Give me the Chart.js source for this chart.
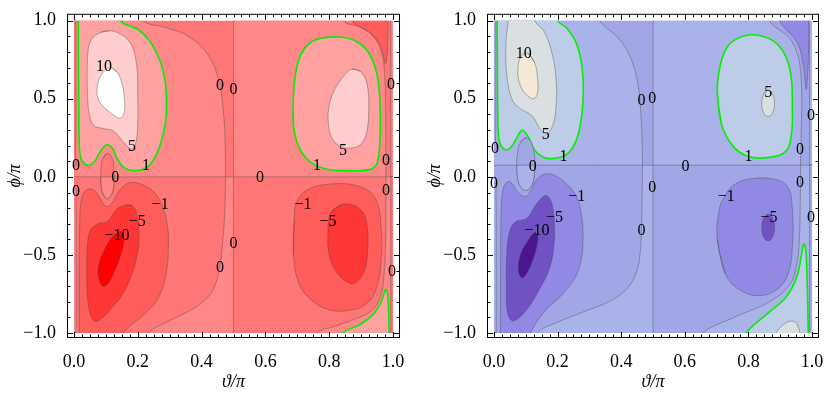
<!DOCTYPE html>
<html>
<head>
<meta charset="utf-8">
<script src="https://cdn.jsdelivr.net/npm/chart.js@4.4.1/dist/chart.umd.min.js"></script>
<style>
  html, body { margin: 0; padding: 0; background: #fff; }
  #wrap { position: relative; width: 830px; height: 395px; }
  canvas { position: absolute; top: 0; }
  #left { left: 0; }
  #right { left: 415px; }
</style>
</head>
<body>
<div id="wrap">
  <canvas id="left" width="415" height="395"></canvas>
  <canvas id="right" width="415" height="395"></canvas>
</div>
<script>
// axes (theta/pi along x, phi/pi along y)
var X_TICKS = [0, 0.2, 0.4, 0.6, 0.8, 1.0];
var Y_TICKS = [-1, -0.5, 0, 0.5, 1];
var X_MINOR = 0.025;
var Y_MINOR = 0.1;

// contour shapes, [theta/pi, phi/pi] ; third element 1 = sharp corner
// shapes that start with a corner are open regions closed outside the frame,
// the others are closed loops

// ---- left panel ----
var L_BASE = [[-0.1, -1.1, 1], [-0.1, 1.1, 1], [1.1, 1.1, 1], [1.1, -1.1, 1]];
var L_UL0 = [[-0.1, 0, 1], [-0.1, 1.1, 1], [0.205, 1.1, 1], [0.216, 1.0], [0.29, 0.955], [0.354, 0.905],
    [0.417, 0.79], [0.452, 0.63], [0.468, 0.42], [0.474, 0.2], [0.475, 0, 1]];
var L_UR0 = [[0.5, 0, 1], [0.5, 1.1, 1], [0.835, 1.1, 1], [0.843, 1.0], [0.9, 0.955], [0.942, 0.89],
    [0.965, 0.79], [0.974, 0.65], [0.977, 0.4], [0.978, 0.15], [0.978, 0, 1]];
var L_TR1 = [[0.865, 1.1, 1], [0.87, 1.0], [0.92, 0.935], [0.952, 0.87], [0.968, 0.79], [0.976, 0.725],
    [0.981, 0.77], [0.984, 0.88], [0.985, 1.0], [0.985, 1.1, 1]];
var L_RS_U = [[0.993, 0, 1], [0.993, 1.1, 1], [1.1, 1.1, 1], [1.1, 0, 1]];
var L_LM0 = [[0.5, 0, 1], [0.475, 0, 1], [0.473, -0.2], [0.466, -0.42], [0.457, -0.57], [0.443, -0.69],
    [0.415, -0.78], [0.36, -0.86], [0.29, -0.93], [0.235, -1.0], [0.22, -1.1, 1], [0.5, -1.1, 1]];
var L_BR0 = [[1.1, 0, 1], [0.978, 0, 1], [0.978, -0.15], [0.977, -0.4], [0.972, -0.62], [0.96, -0.77],
    [0.93, -0.86], [0.88, -0.91], [0.82, -0.955], [0.76, -1.0], [0.74, -1.1, 1], [1.1, -1.1, 1]];
var L_RS_L = [[0.993, 0, 1], [0.993, -1.1, 1], [1.1, -1.1, 1], [1.1, 0, 1]];
var L_LS_U = [[-0.1, 1.1, 1], [0.006, 1.1, 1], [0.006, 0.5], [0.005, 0.15], [0.002, 0.07], [-0.1, 0.05, 1]];
var L_LS_L = [[-0.1, -1.1, 1], [0.007, -1.1, 1], [0.007, -0.5], [0.006, -0.15], [0.002, -0.07], [-0.1, -0.05, 1]];
var L_UL1 = [[0.0135, 1.1, 1], [0.0135, 1.0], [0.014, 0.75], [0.015, 0.45], [0.016, 0.25], [0.02, 0.13],
    [0.032, 0.085], [0.047, 0.075], [0.065, 0.1], [0.082, 0.16], [0.103, 0.205], [0.12, 0.185],
    [0.135, 0.12], [0.155, 0.062], [0.186, 0.04], [0.228, 0.06], [0.255, 0.13], [0.274, 0.23],
    [0.287, 0.35], [0.29, 0.47], [0.285, 0.62], [0.262, 0.78], [0.21, 0.93], [0.144, 1.0], [0.135, 1.1, 1]];
var L_UL5 = [[0.085, 0.925], [0.055, 0.88], [0.044, 0.8], [0.042, 0.56], [0.048, 0.4], [0.062, 0.33],
    [0.09, 0.31], [0.122, 0.295], [0.148, 0.24], [0.168, 0.195], [0.182, 0.178], [0.195, 0.23],
    [0.2, 0.35], [0.2, 0.5], [0.196, 0.72], [0.176, 0.86], [0.14, 0.92], [0.11, 0.935]];
var L_UL10 = [[0.115, 0.70], [0.09, 0.665], [0.077, 0.61], [0.072, 0.54], [0.08, 0.48], [0.1, 0.435],
    [0.125, 0.395], [0.145, 0.375], [0.157, 0.41], [0.158, 0.5], [0.15, 0.6], [0.135, 0.67]];
var L_EL_U = [[0.105, 0.15], [0.119, 0.12], [0.125, 0.06], [0.126, -0.02], [0.122, -0.09], [0.113, -0.13],
    [0.105, -0.14], [0.097, -0.13], [0.088, -0.09], [0.084, -0.02], [0.085, 0.06], [0.091, 0.12]];
var L_EL_L = [[0.126, 0, 1], [0.126, -0.02], [0.122, -0.09], [0.113, -0.13], [0.105, -0.14], [0.097, -0.13],
    [0.088, -0.09], [0.084, -0.02], [0.084, 0, 1]];
var L_LL1 = [[0.016, -1.1, 1], [0.016, -1.0], [0.016, -0.6], [0.018, -0.3], [0.022, -0.16], [0.033, -0.095],
    [0.05, -0.078], [0.068, -0.095], [0.085, -0.15], [0.103, -0.19], [0.12, -0.165], [0.14, -0.095],
    [0.163, -0.048], [0.188, -0.035], [0.22, -0.055], [0.252, -0.1], [0.278, -0.19], [0.292, -0.3],
    [0.296, -0.42], [0.29, -0.6], [0.265, -0.77], [0.22, -0.88], [0.178, -0.95], [0.155, -1.0], [0.145, -1.1, 1]];
var L_LL5 = [[0.165, -0.18], [0.135, -0.205], [0.105, -0.285], [0.075, -0.3], [0.052, -0.34], [0.043, -0.42],
    [0.04, -0.6], [0.044, -0.8], [0.055, -0.9], [0.068, -0.925], [0.09, -0.9], [0.12, -0.835], [0.15, -0.76],
    [0.178, -0.64], [0.198, -0.5], [0.204, -0.38], [0.198, -0.25], [0.183, -0.185]];
var L_LL10 = [[0.145, -0.35], [0.12, -0.385], [0.095, -0.47], [0.078, -0.56], [0.077, -0.64], [0.09, -0.70],
    [0.108, -0.68], [0.128, -0.6], [0.145, -0.51], [0.155, -0.43], [0.155, -0.37]];
var L_UR1 = [[0.687, 0.456], [0.692, 0.62], [0.705, 0.75], [0.73, 0.84], [0.77, 0.885], [0.828, 0.895],
    [0.887, 0.865], [0.928, 0.78], [0.952, 0.63], [0.96, 0.4], [0.958, 0.2], [0.95, 0.09], [0.93, 0.048],
    [0.865, 0.04], [0.79, 0.05], [0.738, 0.1], [0.703, 0.2], [0.688, 0.33]];
var L_UR5 = [[0.871, 0.69], [0.843, 0.64], [0.815, 0.55], [0.8, 0.46], [0.797, 0.35], [0.808, 0.25],
    [0.835, 0.195], [0.87, 0.185], [0.9, 0.21], [0.918, 0.29], [0.924, 0.45], [0.918, 0.6], [0.898, 0.675]];
var L_LR1 = [[0.69, -0.29], [0.697, -0.17], [0.73, -0.085], [0.81, -0.045], [0.9, -0.065], [0.945, -0.14],
    [0.962, -0.3], [0.962, -0.55], [0.945, -0.73], [0.915, -0.815], [0.86, -0.855], [0.8, -0.85],
    [0.745, -0.79], [0.705, -0.68], [0.688, -0.5]];
var L_LR5 = [[0.835, -0.18], [0.875, -0.18], [0.905, -0.225], [0.918, -0.3], [0.921, -0.45], [0.91, -0.6],
    [0.88, -0.68], [0.85, -0.665], [0.82, -0.6], [0.8, -0.5], [0.796, -0.36], [0.805, -0.23]];
var L_BR1 = [[0.83, -1.1, 1], [0.843, -1.0], [0.897, -0.945], [0.94, -0.875], [0.963, -0.8], [0.977, -0.72],
    [0.983, -0.75], [0.986, -0.85], [0.988, -1.0], [0.989, -1.1, 1]];

var L_LABELS = [
    ['10', 0.094, 0.706], ['5', 0.182, 0.19], ['1', 0.226, 0.069], ['0', 0.006, 0.069], ['0', 0.006, -0.094],
    ['0', 0.129, -0.006], ['0', 0.458, 0.58], ['0', 0.50, 0.56], ['0', 0.583, -0.006], ['0', 0.50, -0.43],
    ['0', 0.458, -0.58], ['\u22121', 0.27, -0.18], ['\u22125', 0.198, -0.29], ['\u221210', 0.135, -0.38],
    ['5', 0.843, 0.17], ['1', 0.762, 0.07], ['0', 0.994, 0.59], ['0', 0.978, 0.1], ['0', 0.978, -0.09],
    ['\u22121', 0.718, -0.18], ['\u22125', 0.796, -0.29], ['0', 0.997, -0.61]
];

// ---- right panel ----
var R_BASE = [[-0.1, -1.1, 1], [-0.1, 1.1, 1], [1.1, 1.1, 1], [1.1, -1.1, 1]];
var R_UL0 = [[-0.1, 0.075, 1], [-0.1, 1.1, 1], [0.32, 1.1, 1], [0.332, 1.0], [0.39, 0.89], [0.428, 0.77],
    [0.452, 0.6], [0.462, 0.4], [0.466, 0.2], [0.467, 0.075, 1]];
var R_UR0 = [[0.5, 0.075, 1], [0.5, 1.1, 1], [0.86, 1.1, 1], [0.865, 1.0], [0.928, 0.89], [0.955, 0.78],
    [0.965, 0.65], [0.968, 0.5], [0.966, 0.3], [0.964, 0.075, 1]];
var R_TR1 = [[0.892, 1.1, 1], [0.897, 1.0], [0.953, 0.86], [0.972, 0.72], [0.979, 0.6], [0.982, 0.56],
    [0.986, 0.65], [0.989, 0.8], [0.99, 1.0], [0.99, 1.1, 1]];
var R_RS_U = [[0.992, 0.075, 1], [0.992, 1.1, 1], [1.1, 1.1, 1], [1.1, 0.075, 1]];
var R_LM0 = [[0.5, 0.075, 1], [0.467, 0.075, 1], [0.466, -0.1], [0.464, -0.3], [0.46, -0.48], [0.448, -0.61],
    [0.42, -0.71], [0.37, -0.79], [0.28, -0.865], [0.2, -0.93], [0.135, -1.0], [0.12, -1.1, 1], [0.5, -1.1, 1]];
var R_BR0 = [[1.1, 0.075, 1], [0.964, 0.075, 1], [0.963, -0.15], [0.96, -0.4], [0.952, -0.56], [0.93, -0.69],
    [0.865, -0.8], [0.76, -0.895], [0.655, -1.0], [0.63, -1.1, 1], [1.1, -1.1, 1]];
var R_RS_L = [[0.992, 0.075, 1], [0.992, -1.1, 1], [1.1, -1.1, 1], [1.1, 0.075, 1]];
var R_LS_U = [[-0.1, 1.1, 1], [0.006, 1.1, 1], [0.006, 0.5], [0.005, 0.25], [0.002, 0.17], [-0.1, 0.15, 1]];
var R_LS_L = [[-0.1, -1.1, 1], [0.007, -1.1, 1], [0.007, -0.5], [0.006, -0.1], [0.002, -0.04], [-0.1, -0.02, 1]];
var R_UL1 = [[0.01, 1.1, 1], [0.01, 1.0], [0.011, 0.7], [0.012, 0.4], [0.015, 0.25], [0.025, 0.19],
    [0.045, 0.176], [0.065, 0.225], [0.088, 0.298], [0.108, 0.255], [0.13, 0.165], [0.165, 0.12],
    [0.216, 0.13], [0.245, 0.18], [0.266, 0.28], [0.279, 0.46], [0.279, 0.66], [0.262, 0.84],
    [0.23, 0.95], [0.2, 1.0], [0.19, 1.1, 1]];
var R_UL5 = [[0.045, 1.1, 1], [0.045, 1.0], [0.038, 0.875], [0.04, 0.66], [0.056, 0.5], [0.08, 0.44],
    [0.12, 0.39], [0.144, 0.31], [0.165, 0.278], [0.185, 0.33], [0.195, 0.45], [0.196, 0.6], [0.185, 0.77],
    [0.158, 0.93], [0.128, 1.0], [0.12, 1.1, 1]];
var R_UL10 = [[0.107, 0.79], [0.085, 0.77], [0.075, 0.68], [0.082, 0.59], [0.1, 0.53], [0.125, 0.5],
    [0.137, 0.54], [0.137, 0.63], [0.128, 0.73]];
var R_EL_U = [[0.1, 0.25], [0.117, 0.22], [0.127, 0.14], [0.128, 0.04], [0.12, -0.05], [0.1, -0.087],
    [0.08, -0.05], [0.072, 0.04], [0.073, 0.14], [0.083, 0.22]];
var R_EL_L = [[0.1275, 0.075, 1], [0.128, 0.04], [0.12, -0.05], [0.1, -0.087], [0.08, -0.05], [0.072, 0.04],
    [0.0725, 0.075, 1]];
var R_LL1 = [[0.02, -1.1, 1], [0.02, -1.0], [0.021, -0.6], [0.023, -0.2], [0.03, -0.07], [0.045, -0.03],
    [0.06, -0.05], [0.075, -0.1], [0.1, -0.125], [0.118, -0.08], [0.135, -0.015], [0.166, 0.02], [0.2, 0.0],
    [0.228, -0.044], [0.255, -0.11], [0.271, -0.2], [0.28, -0.4], [0.265, -0.6], [0.22, -0.74], [0.16, -0.86],
    [0.115, -1.0], [0.105, -1.1, 1]];
var R_LL5 = [[0.16, -0.12], [0.135, -0.17], [0.103, -0.265], [0.066, -0.29], [0.048, -0.36], [0.04, -0.5],
    [0.039, -0.7], [0.042, -0.86], [0.056, -0.92], [0.08, -0.9], [0.11, -0.83], [0.14, -0.73], [0.172, -0.6],
    [0.188, -0.45], [0.19, -0.3], [0.183, -0.18], [0.172, -0.13]];
var R_LL10 = [[0.128, -0.356], [0.103, -0.42], [0.083, -0.5], [0.077, -0.6], [0.088, -0.645], [0.105, -0.61],
    [0.122, -0.53], [0.134, -0.45], [0.138, -0.375]];
var R_UR1 = [[0.702, 0.54], [0.71, 0.7], [0.73, 0.82], [0.76, 0.88], [0.81, 0.91], [0.87, 0.88], [0.91, 0.8],
    [0.933, 0.66], [0.938, 0.45], [0.935, 0.27], [0.918, 0.165], [0.865, 0.125], [0.80, 0.13], [0.75, 0.2],
    [0.715, 0.34]];
var R_UR5 = [[0.862, 0.555], [0.876, 0.53], [0.882, 0.47], [0.876, 0.41], [0.862, 0.385], [0.848, 0.41],
    [0.842, 0.47], [0.848, 0.53]];
var R_LR1 = [[0.702, -0.40], [0.708, -0.21], [0.724, -0.13], [0.752, -0.055], [0.80, -0.015], [0.875, -0.013],
    [0.922, -0.06], [0.938, -0.2], [0.938, -0.45], [0.925, -0.62], [0.89, -0.72], [0.83, -0.76], [0.77, -0.72],
    [0.727, -0.62]];
var R_LR5 = [[0.862, -0.24], [0.876, -0.265], [0.882, -0.325], [0.876, -0.385], [0.862, -0.41], [0.848, -0.385],
    [0.842, -0.325], [0.848, -0.265]];
var R_BR1 = [[0.78, -1.1, 1], [0.793, -1.0], [0.86, -0.875], [0.92, -0.765], [0.952, -0.64], [0.967, -0.5],
    [0.974, -0.43], [0.98, -0.46], [0.985, -0.7], [0.988, -1.0], [0.988, -1.1, 1]];
var R_BR5 = [[0.88, -1.1, 1], [0.887, -1.0], [0.905, -0.955], [0.928, -0.925], [0.948, -0.93], [0.958, -0.97],
    [0.962, -1.0], [0.963, -1.1, 1]];

var R_LABELS = [
    ['10', 0.094, 0.79], ['5', 0.163, 0.27], ['1', 0.219, 0.13], ['0', 0.003, 0.18], ['0', 0.122, 0.065],
    ['0', 0.0, -0.044], ['0', 0.464, 0.49], ['0', 0.498, 0.5], ['0', 0.602, 0.065], ['0', 0.498, -0.07],
    ['5', 0.862, 0.54], ['1', 0.8, 0.13], ['0', 0.997, 0.39], ['0', 0.962, 0.175], ['0', 0.962, -0.035],
    ['\u22121', 0.26, -0.13], ['\u22125', 0.19, -0.26], ['\u221210', 0.135, -0.345], ['0', 0.464, -0.345],
    ['\u22121', 0.73, -0.13], ['\u22125', 0.865, -0.26], ['0', 0.997, -0.26]
];

// draw order, bottom first: [shape, band, line]
var L_LAYERS = [
    [L_BASE, 'n0', 'none'], [L_UL0, 'p0', 'gray'], [L_UR0, 'p0', 'gray'], [L_TR1, 'n1', 'gray'],
    [L_RS_U, 'p0', 'gray'], [L_LM0, 'p0', 'gray'], [L_BR0, 'p0', 'gray'], [L_RS_L, 'n0', 'gray'],
    [L_LS_U, 'n0', 'gray'], [L_LS_L, 'p0', 'gray'], [L_UL1, 'p1', 'green'], [L_UL5, 'p5', 'gray'],
    [L_UL10, 'p10', 'gray'], [L_EL_U, 'n0', 'gray'], [L_EL_L, 'p0', 'gray'], [L_LL1, 'n1', 'gray'],
    [L_LL5, 'n5', 'gray'], [L_LL10, 'n10', 'gray'], [L_UR1, 'p1', 'green'], [L_UR5, 'p5', 'gray'],
    [L_LR1, 'n1', 'gray'], [L_LR5, 'n5', 'gray'], [L_BR1, 'p1', 'green']
];
var R_LAYERS = [
    [R_BASE, 'n0', 'none'], [R_UL0, 'p0', 'gray'], [R_UR0, 'p0', 'gray'], [R_TR1, 'n1', 'gray'],
    [R_RS_U, 'p0', 'gray'], [R_LM0, 'p0', 'gray'], [R_BR0, 'p0', 'gray'], [R_RS_L, 'n0', 'gray'],
    [R_LS_U, 'n0', 'gray'], [R_LS_L, 'p0', 'gray'], [R_UL1, 'p1', 'green'], [R_UL5, 'p5', 'gray'],
    [R_UL10, 'p10', 'gray'], [R_EL_U, 'n0', 'gray'], [R_EL_L, 'p0', 'gray'], [R_LL1, 'n1', 'gray'],
    [R_LL5, 'n5', 'gray'], [R_LL10, 'n10', 'gray'], [R_UR1, 'p1', 'green'], [R_UR5, 'p5', 'gray'],
    [R_LR1, 'n1', 'gray'], [R_LR5, 'n5', 'gray'], [R_BR1, 'p1', 'green'], [R_BR5, 'p5', 'gray']
];

var RED = {
    n10: '#ff0000', n5: '#ff3636', n1: '#ff5c5c', n0: '#ff7676',
    p0: '#ff8787', p1: '#ffa1a1', p5: '#ffcdcd', p10: '#ffffff'
};
var BLUE = {
    n10: '#4b1591', n5: '#7052c4', n1: '#9189e3', n0: '#a1a6e7',
    p0: '#aab3e9', p1: '#becde7', p5: '#dadfe2', p10: '#f4e8d6'
};
var LINE_GRAY = 'rgba(70, 70, 70, 0.5)';
var LINE_GREEN = '#00f000';
var SERIF = '"Liberation Serif", "Times New Roman", serif';

function shapePoints(shape, loop) {
    var pts = [];
    shape.forEach(function (p) {
        pts.push({x: p[0], y: p[1]});
        if (p[2]) pts.push({x: p[0], y: p[1]});
    });
    var first = {x: shape[0][0], y: shape[0][1]};
    if (loop) {
        var last = shape[shape.length - 1];
        pts.unshift({x: last[0], y: last[1]});
        pts.push(first);
    } else {
        pts.push(first, {x: first.x, y: first.y});
    }
    return pts;
}

function makeDatasets(layers, palette) {
    return layers.map(function (l, i) {
        var shape = l[0];
        var loop = !shape[0][2];
        return {
            data: shapePoints(shape, loop),
            fill: 'shape',
            backgroundColor: palette[l[1]],
            borderColor: l[2] === 'green' ? LINE_GREEN : LINE_GRAY,
            borderWidth: l[2] === 'none' ? 0 : (l[2] === 'green' ? 1.6 : 0.8),
            tension: 0.4,
            pointRadius: 0,
            order: layers.length - i
        };
    });
}

var contourPlugin = {
    id: 'contour',
    beforeDatasetsDraw: function (chart) {
        var x = chart.scales.x, y = chart.scales.y, ctx = chart.ctx;
        var l = x.getPixelForValue(0), r = x.getPixelForValue(1);
        var t = y.getPixelForValue(1), b = y.getPixelForValue(-1);
        ctx.save();
        ctx.beginPath();
        ctx.rect(l, t, r - l, b - t);
        ctx.clip();
    },
    afterDatasetsDraw: function (chart, args, opts) {
        var ctx = chart.ctx, x = chart.scales.x, y = chart.scales.y;
        ctx.restore();
        ctx.save();
        ctx.fillStyle = '#000';
        ctx.font = '16px ' + SERIF;
        ctx.textAlign = 'center';
        ctx.textBaseline = 'middle';
        opts.labels.forEach(function (lb) {
            ctx.fillText(lb[0], x.getPixelForValue(lb[1]), y.getPixelForValue(lb[2]));
        });
        ctx.restore();
    },
    afterDraw: function (chart) {
        var ctx = chart.ctx, a = chart.chartArea, x = chart.scales.x, y = chart.scales.y;
        var i, v, p, len;
        ctx.save();
        ctx.strokeStyle = '#000';
        ctx.lineWidth = 1;
        ctx.beginPath();
        for (i = 0; i <= Math.round(1 / X_MINOR); i++) {
            v = i * X_MINOR;
            len = (Math.abs(v / 0.2 - Math.round(v / 0.2)) < 1e-6) ? 6 : 3.5;
            p = Math.round(x.getPixelForValue(v)) + 0.5;
            ctx.moveTo(p, a.bottom); ctx.lineTo(p, a.bottom - len);
            ctx.moveTo(p, a.top); ctx.lineTo(p, a.top + len);
        }
        for (i = 0; i <= Math.round(2 / Y_MINOR); i++) {
            v = -1 + i * Y_MINOR;
            len = (Math.abs(v / 0.5 - Math.round(v / 0.5)) < 1e-6) ? 6 : 3.5;
            p = Math.round(y.getPixelForValue(v)) + 0.5;
            ctx.moveTo(a.left, p); ctx.lineTo(a.left + len, p);
            ctx.moveTo(a.right, p); ctx.lineTo(a.right - len, p);
        }
        ctx.stroke();
        ctx.strokeRect(a.left + 0.5, a.top + 0.5, a.right - a.left - 1, a.bottom - a.top - 1);
        ctx.restore();
    }
};

function tickLabel(v) {
    return v.toFixed(1).replace('-', '\u2212');
}

function makeChart(id, layers, palette, labels, yWidth, rightPad, yTitlePad) {
    var ctx = document.getElementById(id).getContext('2d');
    return new Chart(ctx, {
        type: 'line',
        data: {datasets: makeDatasets(layers, palette)},
        options: {
            responsive: false,
            animation: false,
            events: [],
            layout: {padding: {top: 6, right: rightPad, bottom: 0, left: 0}},
            elements: {line: {capBezierPoints: false}, point: {radius: 0}},
            plugins: {
                legend: {display: false},
                tooltip: {enabled: false},
                filler: {drawTime: 'beforeDatasetDraw'},
                contour: {labels: labels}
            },
            scales: {
                x: {
                    type: 'linear',
                    min: -0.0219,
                    max: 1.0219,
                    grid: {display: false},
                    border: {display: false},
                    afterBuildTicks: function (s) {
                        s.ticks = X_TICKS.map(function (v) { return {value: v}; });
                    },
                    afterFit: function (s) { s.height = 57; },
                    ticks: {
                        autoSkip: false,
                        maxRotation: 0,
                        padding: 5,
                        color: '#000',
                        font: {family: SERIF, size: 18},
                        callback: tickLabel
                    },
                    title: {
                        display: true,
                        text: '\u03d1/\u03c0',
                        color: '#000',
                        font: {family: SERIF, size: 18, style: 'italic'},
                        padding: {top: 0, bottom: 1.5}
                    }
                },
                y: {
                    type: 'linear',
                    min: -1.03125,
                    max: 1.04375,
                    grid: {display: false},
                    border: {display: false},
                    afterBuildTicks: function (s) {
                        s.ticks = Y_TICKS.map(function (v) { return {value: v}; });
                    },
                    afterFit: function (s) { s.width = yWidth; },
                    ticks: {
                        autoSkip: false,
                        padding: 3,
                        color: '#000',
                        font: {family: SERIF, size: 18},
                        callback: tickLabel
                    },
                    title: {
                        display: true,
                        text: '\u03d5/\u03c0',
                        color: '#000',
                        font: {family: SERIF, size: 18, style: 'italic'},
                        padding: {top: yTitlePad, bottom: 0}
                    }
                }
            }
        },
        plugins: [contourPlugin]
    });
}

makeChart('left', L_LAYERS, RED, L_LABELS, 67, 15, 4.5);
makeChart('right', R_LAYERS, BLUE, R_LABELS, 72, 11, 9.5);
</script>
</body>
</html>
